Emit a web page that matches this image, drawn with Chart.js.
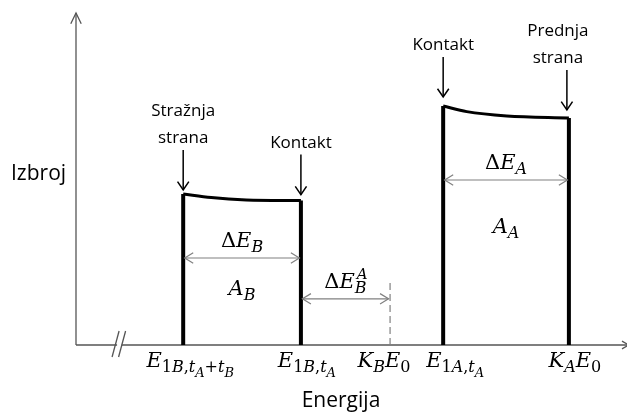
<!DOCTYPE html>
<html>
<head>
<meta charset="utf-8">
<title>Izbroj - Energija</title>
<script src="https://cdn.jsdelivr.net/npm/chart.js@4"></script>
<style>
  html, body { margin: 0; padding: 0; background: #fff; }
  #wrap { width: 627px; height: 412px; }
</style>
</head>
<body>
<div id="wrap"><canvas id="chart" width="627" height="412"></canvas></div>
<script>
// --- data (energy in arbitrary units, counts in arbitrary units) ---
const edgesB = [21.4, 44.9];            // E1B,tA+tB  and  E1B,tA
const edgesA = [73.3, 98.4];            // E1A,tA  and  KA E0
const kBE0 = 62.7;                      // KB E0
const topBx = [21.4, 27, 34, 44.9];     // top of peak B
const topBy = [45.5, 44.4, 43.7, 43.5];
const topAx = [73.3, 78, 86, 98.4];     // top of peak A
const topAy = [72.0, 70.3, 69.0, 68.4];
const tickValues = [21.4, 44.9, 62.7, 73.3, 98.4];

// math labels as tokens: [text, level (0 main, 1 sub, 2 subsub, -1 sup), italic]
const tickLabels = [
  [['E',0,1],['1',1,0],['B',1,1],[',',1,0],['t',1,1],['A',2,1],['+',1,0],['t',1,1],['B',2,1]],
  [['E',0,1],['1',1,0],['B',1,1],[',',1,0],['t',1,1],['A',2,1]],
  [['K',0,1],['B',1,1],['E',0,1],['0',1,0]],
  [['E',0,1],['1',1,0],['A',1,1],[',',1,0],['t',1,1],['A',2,1]],
  [['K',0,1],['A',1,1],['E',0,1],['0',1,0]]
];
const calloutTexts = [['Stražnja', 'strana'], ['Kontakt'], ['Kontakt'], ['Prednja', 'strana']];
const dimLabels = [
  [['Δ',0,0],['E',0,1],['B',1,1]],
  [['Δ',0,0],['E',0,1],['B',1,1],['A',-1,1]],
  [['Δ',0,0],['E',0,1],['A',1,1]]
];
const areaLabels = [
  [['A',0,1],['B',1,1]],
  [['A',0,1],['A',1,1]]
];
const axisTitleX = 'Energija';
const axisTitleY = 'Izbroj';

// --- layout of the annotations (positions in data units / pixel offsets) ---
const dimArrows = [
  { x1: edgesB[0], x2: edgesB[1], y: 26.2, label: 0 },
  { x1: edgesB[1], x2: kBE0, y: 13.9, label: 1 },
  { x1: edgesA[0], x2: edgesA[1], y: 49.7, label: 2 }
];
const areaPos = [
  { x: (edgesB[0] + edgesB[1]) / 2, y: 15.0, label: 0 },
  { x: (edgesA[0] + edgesA[1]) / 2, y: 33.7, label: 1 }
];
const callouts = [
  { x: edgesB[0], y: topBy[0], gap: 4, dx: 0 },
  { x: edgesB[1], y: topBy[topBy.length - 1], gap: 6, dx: 0 },
  { x: edgesA[0], y: topAy[0], gap: 9, dx: 0 },
  { x: edgesA[1] - 0.4, y: topAy[topAy.length - 1], gap: 8, dx: -9 }
];
const tickDx = [7, 6, -6, 12, 6];
const dashTop = 18.7;

const AXIS = '#555555';
const DIM = '#808080';
const SANS = '"Open Sans", "DejaVu Sans", sans-serif';
const SERIF = '"DejaVu Serif", "Liberation Serif", serif';

function pts(xs, ys) {
  return xs.map((x, i) => ({ x: x, y: ys[i] }));
}
function vline(x, h) {
  return [{ x: x, y: 0 }, { x: x, y: h }];
}

function lineSet(data, width, smooth) {
  return {
    data: data,
    showLine: true,
    borderColor: '#000',
    borderWidth: width,
    pointRadius: 0,
    fill: false,
    clip: false,
    borderCapStyle: 'butt',
    borderJoinStyle: 'round',
    cubicInterpolationMode: smooth ? 'monotone' : 'default',
    tension: 0
  };
}

// draw an open "V" arrow head with the tip at (x, y)
function arrowHead(ctx, x, y, angle, len, spread) {
  ctx.beginPath();
  ctx.moveTo(x - len * Math.cos(angle - spread), y - len * Math.sin(angle - spread));
  ctx.lineTo(x, y);
  ctx.lineTo(x - len * Math.cos(angle + spread), y - len * Math.sin(angle + spread));
  ctx.stroke();
}

const SIZES = { 0: 21, 1: 16, 2: 13, '-1': 15 };
const SHIFT = { 0: 0, 1: 5, 2: 10, '-1': -9 };

function mathFont(tok) {
  return (tok[2] ? 'italic ' : '') + SIZES[tok[1]] + 'px ' + SERIF;
}

// draw a list of tokens centred on x, main baseline at y
function drawMath(ctx, tokens, x, y) {
  // superscript sits over the previous subscript, so it does not advance
  let widths = tokens.map(t => { ctx.font = mathFont(t); return ctx.measureText(t[0]).width; });
  let total = 0;
  tokens.forEach((t, i) => { if (t[1] !== -1) total += widths[i]; });
  let cx = x - total / 2;
  let lastStart = cx;
  ctx.textAlign = 'left';
  ctx.textBaseline = 'alphabetic';
  tokens.forEach((t, i) => {
    ctx.font = mathFont(t);
    if (t[1] === -1) {
      ctx.fillText(t[0], lastStart + 2, y + SHIFT[t[1]]);
      return;
    }
    lastStart = cx;
    ctx.fillText(t[0], cx, y + SHIFT[t[1]]);
    cx += widths[i];
  });
}

const diagramPlugin = {
  id: 'diagram',
  beforeDatasetsDraw(chart) {
    const ctx = chart.ctx;
    const xs = chart.scales.x, ys = chart.scales.y;
    const area = chart.chartArea;
    const y0 = ys.getPixelForValue(0);
    const bx1 = xs.getPixelForValue(8.0), bx2 = xs.getPixelForValue(9.3);
    ctx.save();
    ctx.strokeStyle = AXIS;
    ctx.lineWidth = 1.3;
    // y axis with arrow
    ctx.beginPath();
    ctx.moveTo(area.left, y0);
    ctx.lineTo(area.left, area.top);
    ctx.stroke();
    arrowHead(ctx, area.left, area.top, -Math.PI / 2, 12, 0.45);
    // x axis, broken at the "//" mark
    ctx.beginPath();
    ctx.moveTo(area.left, y0);
    ctx.lineTo(bx1 + 1, y0);
    ctx.moveTo(bx2 - 1, y0);
    ctx.lineTo(chart.width, y0);
    ctx.stroke();
    arrowHead(ctx, chart.width + 2, y0, 0, 8, 0.5);
    // break mark
    [bx1, bx2].forEach(bx => {
      ctx.beginPath();
      ctx.moveTo(bx - 4, y0 + 12);
      ctx.lineTo(bx + 3, y0 - 14);
      ctx.stroke();
    });
    // dashed marker at KB E0
    const kx = xs.getPixelForValue(kBE0);
    ctx.strokeStyle = DIM;
    ctx.lineWidth = 1.2;
    ctx.setLineDash([7, 4]);
    ctx.beginPath();
    ctx.moveTo(kx, y0);
    ctx.lineTo(kx, ys.getPixelForValue(dashTop));
    ctx.stroke();
    ctx.setLineDash([]);
    ctx.restore();
  },
  afterDatasetsDraw(chart) {
    const ctx = chart.ctx;
    const xs = chart.scales.x, ys = chart.scales.y;
    const y0 = ys.getPixelForValue(0);
    ctx.save();
    ctx.fillStyle = '#000';

    // dimension arrows with labels
    dimArrows.forEach(d => {
      const p1 = xs.getPixelForValue(d.x1) + 1.5, p2 = xs.getPixelForValue(d.x2) - 1.5;
      const py = ys.getPixelForValue(d.y);
      ctx.strokeStyle = DIM;
      ctx.lineWidth = 1.2;
      ctx.beginPath();
      ctx.moveTo(p1, py);
      ctx.lineTo(p2, py);
      ctx.stroke();
      arrowHead(ctx, p1, py, Math.PI, 10, 0.55);
      arrowHead(ctx, p2, py, 0, 10, 0.55);
      drawMath(ctx, dimLabels[d.label], (p1 + p2) / 2, py - 11);
    });

    // area labels
    areaPos.forEach(a => {
      drawMath(ctx, areaLabels[a.label], xs.getPixelForValue(a.x), ys.getPixelForValue(a.y));
    });

    // callout arrows with text
    ctx.strokeStyle = '#000';
    ctx.lineWidth = 1.5;
    ctx.font = '17px ' + SANS;
    ctx.textAlign = 'center';
    ctx.textBaseline = 'alphabetic';
    callouts.forEach((c, i) => {
      const px = xs.getPixelForValue(c.x);
      const tip = ys.getPixelForValue(c.y) - c.gap;
      const top = tip - 40;
      ctx.beginPath();
      ctx.moveTo(px, top);
      ctx.lineTo(px, tip);
      ctx.stroke();
      arrowHead(ctx, px, tip, Math.PI / 2, 10, 0.6);
      const lines = calloutTexts[i];
      lines.forEach((t, j) => {
        ctx.fillText(t, px + c.dx, top - 7 - (lines.length - 1 - j) * 27);
      });
    });

    // tick labels under the x axis
    tickValues.forEach((v, i) => {
      drawMath(ctx, tickLabels[i], xs.getPixelForValue(v) + tickDx[i], y0 + 22);
    });

    // axis titles
    ctx.font = '21px ' + SANS;
    ctx.textAlign = 'center';
    ctx.fillText(axisTitleX, 341, 407);
    ctx.textAlign = 'left';
    ctx.fillText(axisTitleY, 11, 180);
    ctx.restore();
  }
};

new Chart(document.getElementById('chart'), {
  type: 'scatter',
  data: {
    datasets: [
      lineSet(vline(edgesB[0], topBy[0]), 4, false),
      lineSet(vline(edgesB[1], topBy[topBy.length - 1]), 4, false),
      lineSet(pts(topBx, topBy), 3, true),
      lineSet(vline(edgesA[0], topAy[0]), 4, false),
      lineSet(vline(edgesA[1], topAy[topAy.length - 1]), 4, false),
      lineSet(pts(topAx, topAy), 3, true)
    ]
  },
  options: {
    responsive: false,
    animation: false,
    layout: { padding: { left: 76, top: 13, right: 0, bottom: 67 } },
    scales: {
      x: { type: 'linear', min: 0, max: 110, display: false },
      y: { type: 'linear', min: 0, max: 100, display: false }
    },
    plugins: {
      legend: { display: false },
      tooltip: { enabled: false }
    }
  },
  plugins: [diagramPlugin]
});
</script>
</body>
</html>
